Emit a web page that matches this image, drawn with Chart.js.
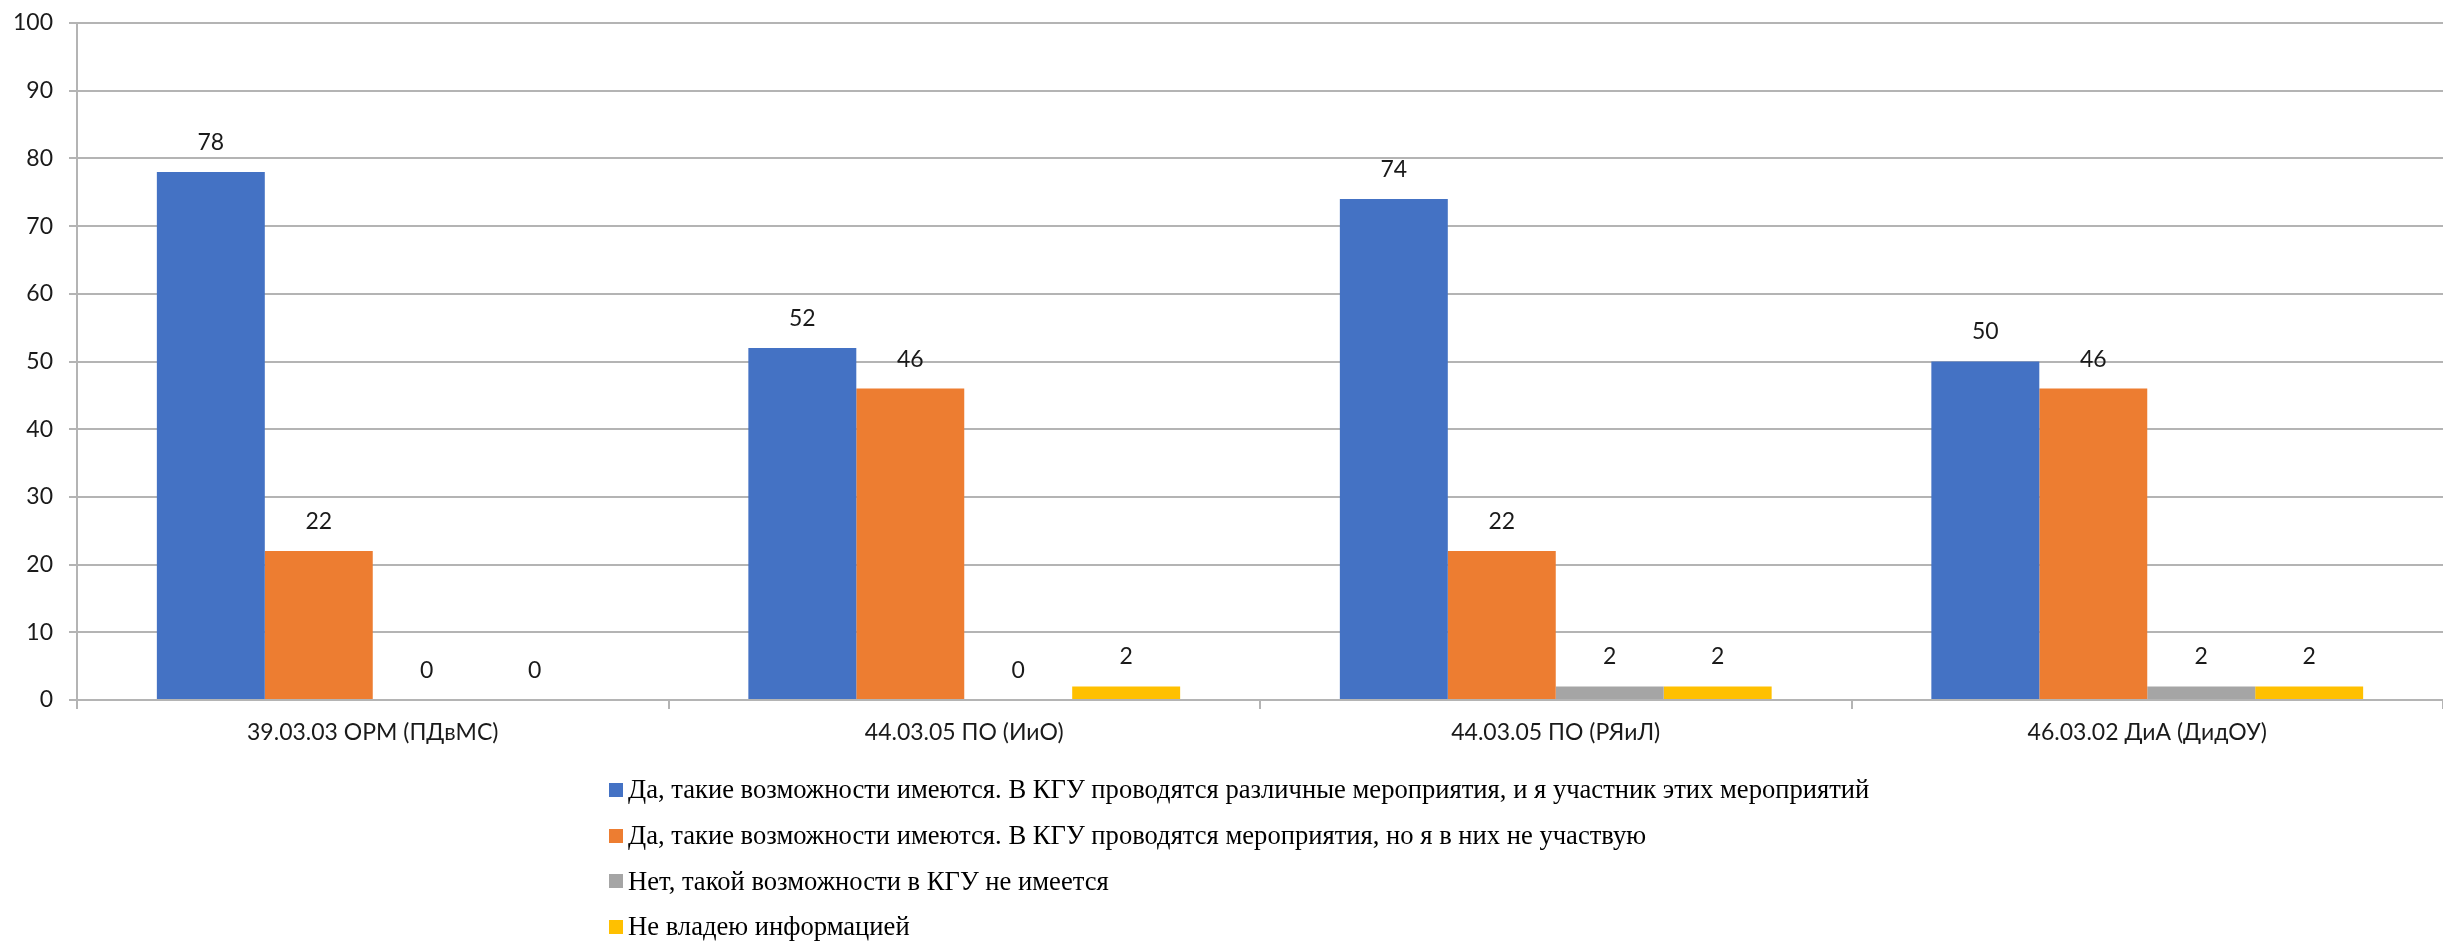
<!DOCTYPE html>
<html>
<head>
<meta charset="utf-8">
<script src="https://cdn.jsdelivr.net/npm/chart.js@4"></script>
<style>
	html, body { margin: 0; padding: 0; background: #fff; overflow: hidden; }
	#wrap { position: relative; width: 2443px; height: 941px; }
	#myChart { display: block; }
	#legend { position: absolute; left: 609px; top: 767px; font-family: 'Liberation Serif', 'Times New Roman', serif; font-size: 26.6px; color: #000; }
	#legend .item { display: flex; align-items: center; height: 45.7px; white-space: nowrap; }
	#legend .box { width: 14px; height: 14px; margin-right: 5px; flex: none; }
</style>
</head>
<body>
<div id="wrap">
	<canvas id="myChart" width="2443" height="941"></canvas>
	<div id="legend"></div>
</div>
<script>
const categories = ['39.03.03 ОРМ (ПДвМС)', '44.03.05 ПО (ИиО)', '44.03.05 ПО (РЯиЛ)', '46.03.02 ДиА (ДидОУ)']
const seriesNames = [
	'Да, такие возможности имеются. В КГУ проводятся различные мероприятия, и я участник этих мероприятий',
	'Да, такие возможности имеются. В КГУ проводятся мероприятия, но я в них не участвую',
	'Нет, такой возможности в КГУ не имеется',
	'Не владею информацией',
]
const takePart = [78, 52, 74, 50]
const noPart = [22, 46, 22, 46]
const noChance = [0, 0, 2, 2]
const noInfo = [0, 2, 2, 2]
const yTicks = [0, 10, 20, 30, 40, 50, 60, 70, 80, 90, 100]

const colors = ['#4472C4', '#ED7D31', '#A5A5A5', '#FFC000']
const tickFont = { family: 'Lato', size: 23 }

// подписи значений над столбцами
const valueLabels = {
	id: 'valueLabels',
	afterDatasetsDraw(chart) {
		const ctx = chart.ctx
		ctx.save()
		ctx.font = '23px Lato'
		ctx.fillStyle = '#1a1a1a'
		ctx.textAlign = 'center'
		ctx.textBaseline = 'bottom'
		chart.data.datasets.forEach((ds, i) => {
			chart.getDatasetMeta(i).data.forEach((bar, j) => {
				ctx.fillText(String(ds.data[j]), bar.x, bar.y - 18)
			})
		})
		ctx.restore()
	},
}

const ctx = document.getElementById('myChart').getContext('2d')
const myChart = new Chart(ctx, {
	type: 'bar',
	data: {
		labels: categories,
		datasets: [takePart, noPart, noChance, noInfo].map((data, i) => ({
			label: seriesNames[i],
			data: data,
			backgroundColor: colors[i],
			borderWidth: 0,
			barPercentage: 1,
			categoryPercentage: 0.73,
		})),
	},
	options: {
		responsive: false,
		animation: false,
		layout: { autoPadding: false, padding: { top: 23, right: 0, bottom: 0, left: 0 } },
		plugins: {
			legend: { display: false },
			tooltip: { enabled: false },
		},
		scales: {
			x: {
				grid: { drawOnChartArea: false, drawTicks: true, tickLength: 9, color: '#b4b4b4', lineWidth: 2 },
				border: { color: '#b4b4b4', width: 2 },
				ticks: { font: tickFont, color: '#1a1a1a', padding: 10 },
				afterFit(scale) { scale.height = 241 },
			},
			y: {
				min: 0,
				max: 100,
				afterBuildTicks(scale) { scale.ticks = yTicks.map(v => ({ value: v })) },
				grid: { color: '#b4b4b4', lineWidth: 2, tickLength: 8 },
				border: { color: '#b4b4b4', width: 2 },
				ticks: { font: tickFont, color: '#1a1a1a', padding: 16 },
				afterFit(scale) {
					scale.width = 77
					scale.paddingTop = 0
					scale.paddingBottom = 0
				},
			},
		},
	},
	plugins: [valueLabels],
})

// легенда списком под графиком
document.getElementById('legend').innerHTML = myChart.data.datasets
	.map(ds => `<div class="item"><span class="box" style="background:${ds.backgroundColor}"></span>${ds.label}</div>`)
	.join('')
</script>
</body>
</html>
